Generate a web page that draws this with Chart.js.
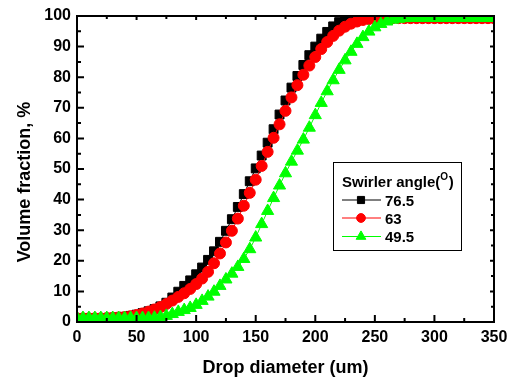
<!DOCTYPE html>
<html>
<head>
<meta charset="utf-8">
<script src="https://cdn.jsdelivr.net/npm/chart.js@4.4.0/dist/chart.umd.min.js"></script>
<style>
  html, body { margin: 0; padding: 0; background: #fff; }
  #wrap { width: 514px; height: 378px; }
</style>
</head>
<body>
<div id="wrap"><canvas id="chart" width="514" height="378"></canvas></div>
<script>
// drop diameter (um) of each marker
const diameters = [0, 5, 10, 15, 20, 25, 30, 35, 40, 45, 50, 55, 60, 65, 70, 75, 80, 85, 90, 95,
  100, 105, 110, 115, 120, 125, 130, 135, 140, 145, 150, 155, 160, 165, 170, 175, 180, 185, 190, 195,
  200, 205, 210, 215, 220, 225, 230, 235, 240, 245, 250, 255, 260, 265, 270, 275, 280, 285, 290, 295,
  300, 305, 310, 315, 320, 325, 330, 335, 340, 345, 350];

// cumulative volume fraction (%) per swirler angle
const angle765 = [1.2, 1.2, 1.2, 1.2, 1.2, 1.3, 1.4, 1.5, 1.7, 2.0, 2.4, 2.9, 3.5, 4.2, 5.1, 6.3, 8.0, 9.9, 11.8, 13.6,
  15.6, 17.8, 20.3, 23.1, 26.2, 29.8, 33.6, 37.6, 41.8, 46.0, 50.2, 54.4, 58.6, 63.0, 67.8, 72.4, 76.6, 80.4, 84.0, 87.2,
  90.0, 92.6, 94.8, 96.6, 98.0, 99.2, 99.8, 100, 100, 100, 100, 100, 100, 100, 100, 100, 100, 100, 100, 100,
  100, 100, 100, 100, 100, 100, 100, 100, 100, 100, 100];
const angle63 = [1.2, 1.2, 1.2, 1.2, 1.2, 1.3, 1.4, 1.5, 1.6, 1.9, 2.3, 2.8, 3.4, 4.1, 4.9, 5.9, 7.0, 8.2, 9.4, 10.8,
  12.4, 14.2, 16.4, 19.2, 22.4, 26.0, 29.8, 33.8, 38.0, 42.2, 46.5, 51.0, 55.6, 60.2, 64.6, 69.0, 73.4, 77.4, 80.8, 83.8,
  86.6, 89.2, 91.5, 93.5, 95.2, 96.5, 97.5, 98.2, 98.7, 99.0, 99.2, 99.3, 99.3, 99.3, 99.3, 99.3, 99.3, 99.3, 99.3, 99.3,
  99.3, 99.3, 99.3, 99.3, 99.3, 99.3, 99.3, 99.3, 99.3, 99.3, 99.3];
const angle495 = [1.3, 1.3, 1.3, 1.3, 1.3, 1.3, 1.3, 1.3, 1.3, 1.3, 1.3, 1.3, 1.3, 1.4, 1.6, 2.0, 2.6, 3.3, 3.9, 4.6,
  5.6, 6.9, 8.3, 9.9, 11.8, 13.9, 15.8, 18.0, 20.6, 23.8, 27.6, 32.0, 36.3, 40.5, 44.6, 48.6, 52.4, 56.0, 59.6, 63.5,
  67.6, 71.6, 75.4, 79.0, 82.4, 85.5, 88.3, 90.9, 93.1, 94.9, 96.3, 97.4, 98.2, 98.8, 99.1, 99.3, 99.4, 99.4, 99.4, 99.4,
  99.4, 99.4, 99.4, 99.4, 99.4, 99.4, 99.4, 99.4, 99.4, 99.4, 99.4];

const seriesLabels = ['76.5', '63', '49.5'];
const xTitle = 'Drop diameter (um)';
const yTitle = 'Volume fraction, %';
const legendTitle = 'Swirler angle(';

const FONT = '"Liberation Sans", Arial, sans-serif';
Chart.defaults.font.family = FONT;
Chart.defaults.color = '#000';

const toPoints = vals => vals.map((v, i) => ({ x: diameters[i], y: v }));

// frame, mirrored inward ticks, axis titles
const frameTicks = {
  id: 'frameTicks',
  afterDatasetsDraw(chart) {
    const { ctx, chartArea: a, scales: { x, y } } = chart;
    ctx.save();
    ctx.strokeStyle = '#000';
    ctx.lineWidth = 2;
    ctx.strokeRect(a.left, a.top, a.right - a.left, a.bottom - a.top);

    const xs = x.ticks.map(t => t.value);
    const ys = y.ticks.map(t => t.value);
    const mids = arr => arr.slice(1).map((v, i) => (v + arr[i]) / 2);

    ctx.beginPath();
    const xTick = (v, len, top) => {
      const px = x.getPixelForValue(v);
      ctx.moveTo(px, a.bottom); ctx.lineTo(px, a.bottom - len);
      ctx.moveTo(px, a.top); ctx.lineTo(px, a.top + top);
    };
    const yTick = (v, len, right) => {
      const py = y.getPixelForValue(v);
      ctx.moveTo(a.left, py); ctx.lineTo(a.left + len, py);
      ctx.moveTo(a.right, py); ctx.lineTo(a.right - right, py);
    };
    xs.forEach(v => xTick(v, 7, 4));
    mids(xs).forEach(v => xTick(v, 4, 3));
    ys.forEach(v => yTick(v, 7, 4));
    mids(ys).forEach(v => yTick(v, 4, 3));
    ctx.stroke();

    // axis titles
    ctx.fillStyle = '#000';
    ctx.font = 'bold 18px ' + FONT;
    ctx.textAlign = 'center';
    ctx.textBaseline = 'alphabetic';
    ctx.fillText(xTitle, (a.left + a.right) / 2, 373);
    ctx.save();
    ctx.translate(30, 182);
    ctx.rotate(-Math.PI / 2);
    ctx.fillText(yTitle, 0, 0);
    ctx.restore();
    ctx.restore();
  }
};

// boxed legend inside the plot
const boxLegend = {
  id: 'boxLegend',
  afterDraw(chart) {
    const { ctx } = chart;
    ctx.save();
    ctx.strokeStyle = '#000';
    ctx.lineWidth = 1;
    ctx.strokeRect(333.5, 162.5, 128, 88);

    ctx.fillStyle = '#000';
    ctx.textAlign = 'left';
    ctx.textBaseline = 'alphabetic';
    ctx.font = 'bold 15px ' + FONT;
    ctx.fillText(legendTitle, 342, 187);
    let tx = 342 + ctx.measureText(legendTitle).width;
    ctx.font = 'bold 10px ' + FONT;
    ctx.fillText('O', tx, 180);
    tx += ctx.measureText('O').width + 0.5;
    ctx.font = 'bold 15px ' + FONT;
    ctx.fillText(')', tx, 187);

    const rows = [200, 218, 236.5];
    chart.data.datasets.forEach((ds, i) => {
      const ry = rows[i];
      ctx.strokeStyle = ds.borderColor;
      ctx.lineWidth = 1;
      ctx.beginPath();
      ctx.moveTo(342, ry); ctx.lineTo(381, ry);
      ctx.stroke();
      ctx.fillStyle = ds.pointBackgroundColor;
      ctx.strokeStyle = ds.pointBorderColor;
      Chart.helpers.drawPoint(ctx, {
        pointStyle: ds.pointStyle, radius: ds.pointRadius * 0.8, rotation: 0, borderWidth: 1
      }, 361, ry);
      ctx.fillStyle = '#000';
      ctx.font = 'bold 15px ' + FONT;
      ctx.fillText(ds.label, 385, ry + 5.5);
    });
    ctx.restore();
  }
};

function series(label, values, color, style, radius, order) {
  return {
    label, data: toPoints(values), order,
    borderColor: color, backgroundColor: color,
    pointBackgroundColor: color, pointBorderColor: color,
    pointStyle: style, pointRadius: radius, pointBorderWidth: 1,
    borderWidth: 1, tension: 0, fill: false
  };
}

new Chart(document.getElementById('chart'), {
  type: 'line',
  data: {
    datasets: [
      series(seriesLabels[0], angle765, '#000000', 'rect', 6.3, 3),
      series(seriesLabels[1], angle63, '#ff0000', 'circle', 5.5, 2),
      series(seriesLabels[2], angle495, '#00ff00', 'triangle', 7, 1)
    ]
  },
  options: {
    responsive: false,
    animation: false,
    devicePixelRatio: 1,
    layout: { padding: { top: 16, right: 20, left: 0, bottom: 0 } },
    plugins: { legend: { display: false }, tooltip: { enabled: false } },
    scales: {
      x: {
        type: 'linear', min: 0, max: 350,
        ticks: { stepSize: 50, padding: 6, font: { size: 16, weight: 'bold' }, color: '#000' },
        grid: { display: false, drawTicks: false },
        border: { display: false },
        afterFit(scale) { scale.height = 56; }
      },
      y: {
        min: 0, max: 100,
        ticks: { stepSize: 10, padding: 6, font: { size: 16, weight: 'bold' }, color: '#000' },
        grid: { display: false, drawTicks: false },
        border: { display: false },
        afterFit(scale) { scale.width = 77; }
      }
    }
  },
  plugins: [frameTicks, boxLegend]
});
</script>
</body>
</html>
